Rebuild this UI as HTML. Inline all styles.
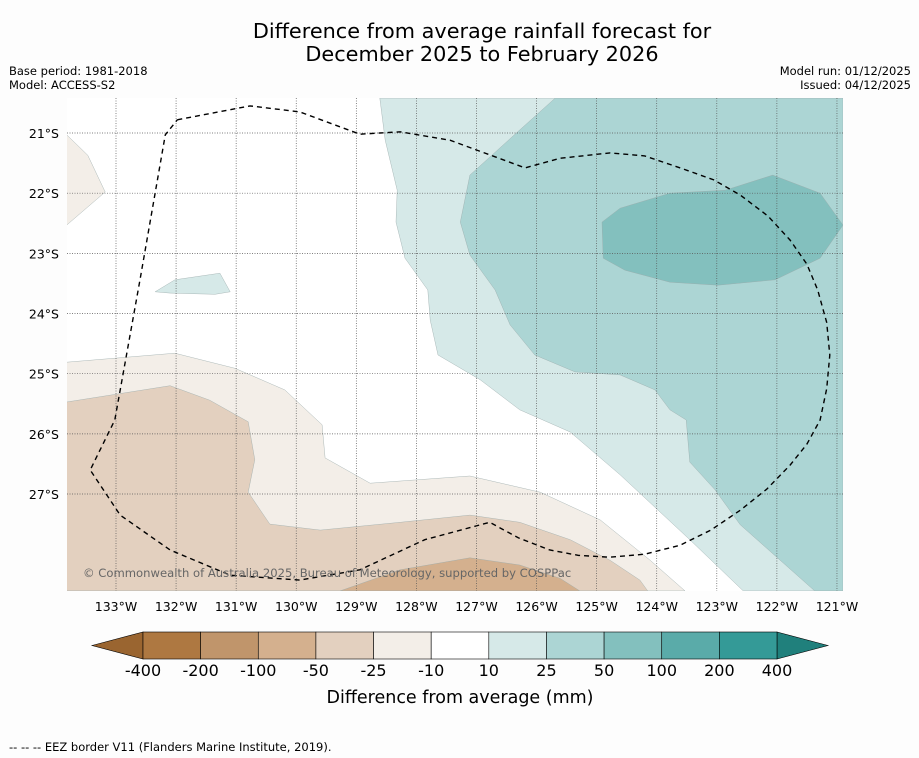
<!DOCTYPE html>
<html><head><meta charset="utf-8">
<style>
body{margin:0;background:#fdfdfd;font-family:"Liberation Sans","DejaVu Sans",sans-serif;}
svg{display:block}
</style></head>
<body>
<svg id="chart" width="919" height="758" xmlns="http://www.w3.org/2000/svg" font-family="DejaVu Sans, Liberation Sans, sans-serif">
<rect width="919" height="758" fill="#fdfdfd"/>
<text x="482" y="38" font-size="20.8" text-anchor="middle" fill="#000">Difference from average rainfall forecast for</text>
<text x="482" y="61" font-size="20.8" text-anchor="middle" fill="#000">December 2025 to February 2026</text>
<text x="9" y="75" font-size="11.5">Base period: 1981-2018</text>
<text x="9" y="89" font-size="11.5">Model: ACCESS-S2</text>
<text x="911" y="75" font-size="11.5" text-anchor="end">Model run: 01/12/2025</text>
<text x="911" y="89" font-size="11.5" text-anchor="end">Issued: 04/12/2025</text>
<defs><clipPath id="mapclip"><rect x="67" y="98" width="776" height="493"/></clipPath></defs>
<g id="map" clip-path="url(#mapclip)"><rect x="67" y="98" width="776" height="493" fill="#fff"/></g>
<g id="grid"></g>
<g id="eez" clip-path="url(#mapclip)"></g>
<text x="83" y="577" font-size="11.6" fill="#666">© Commonwealth of Australia 2025, Bureau of Meteorology, supported by COSPPac</text>
<g id="ticks"></g>
<g id="cbar"></g>
<text x="460" y="703" font-size="17.5" text-anchor="middle">Difference from average (mm)</text>
<text x="9" y="751" font-size="11.5">--  --  -- EEZ border V11 (Flanders Marine Institute, 2019).</text>
</svg>
<script>
const lonTicks=[-133,-132,-131,-130,-129,-128,-127,-126,-125,-124,-123,-122,-121];
const latTicks=[21,22,23,24,25,26,27];
const levelLabels=["-400","-200","-100","-50","-25","-10","10","25","50","100","200","400"];
const levelColors=["#ae7841","#c0956b","#d4b08e","#e3d0bf","#f3eee8","#ffffff","#d6e9e8","#acd5d4","#83c0be","#5aaba9","#349a97"];
const shapeLevels=[4,3,2,4,6,6,7,8];
const shapes=[
[[-133.82,24.81],[-132.02,24.66],[-131.02,24.91],[-130.19,25.27],[-129.57,25.85],[-129.52,26.40],[-128.77,26.82],[-127.11,26.70],[-125.94,26.97],[-124.94,27.43],[-124.11,28.10],[-123.53,28.61],[-133.82,28.61]],
[[-133.82,25.47],[-132.10,25.20],[-131.44,25.44],[-130.80,25.80],[-130.69,26.43],[-130.80,26.97],[-130.44,27.50],[-129.60,27.60],[-128.27,27.47],[-127.11,27.35],[-126.28,27.47],[-125.44,27.76],[-124.78,28.10],[-124.28,28.43],[-124.15,28.61],[-133.82,28.61]],
[[-129.27,28.61],[-128.27,28.26],[-127.11,28.06],[-126.28,28.18],[-125.61,28.40],[-125.28,28.61]],
[[-133.82,21.03],[-133.47,21.37],[-133.18,21.98],[-133.82,22.53]],
[[-132.35,23.64],[-132.02,23.44],[-131.27,23.33],[-131.10,23.64],[-131.35,23.68],[-132.10,23.66]],
[[-128.61,20.42],[-120.90,20.42],[-120.90,28.61],[-122.56,28.61],[-123.45,27.76],[-124.61,26.68],[-125.44,25.97],[-126.28,25.60],[-126.94,25.10],[-127.64,24.69],[-127.77,24.11],[-127.81,23.61],[-128.19,23.08],[-128.34,22.48],[-128.32,21.95],[-128.52,21.12]],
[[-125.69,20.42],[-120.90,20.42],[-120.90,28.61],[-121.37,28.61],[-122.61,27.51],[-123.03,26.93],[-123.45,26.47],[-123.51,25.77],[-123.78,25.60],[-124.03,25.27],[-124.61,25.02],[-125.36,24.97],[-126.03,24.69],[-126.44,24.19],[-126.69,23.61],[-127.11,23.03],[-127.27,22.48],[-127.11,21.70],[-126.28,20.95]],
[[-124.91,22.48],[-124.61,22.25],[-123.78,22.00],[-122.86,21.95],[-122.07,21.70],[-121.28,22.00],[-120.90,22.53],[-121.28,23.08],[-122.03,23.44],[-122.98,23.53],[-123.78,23.48],[-124.53,23.28],[-124.89,23.08]]
];
const eezLine=[[-131.98,20.78],[-130.77,20.55],[-129.94,20.65],[-128.94,21.02],[-128.27,20.98],[-127.44,21.12],[-126.19,21.58],[-125.61,21.42],[-124.78,21.33],[-124.20,21.38],[-123.61,21.58],[-123.05,21.78],[-122.61,22.03],[-122.15,22.38],[-121.78,22.78],[-121.50,23.18],[-121.32,23.61],[-121.17,24.15],[-121.12,24.69],[-121.17,25.25],[-121.28,25.77],[-121.50,26.17],[-121.78,26.52],[-122.17,26.92],[-122.61,27.27],[-123.10,27.60],[-123.61,27.85],[-124.20,28.00],[-124.78,28.05],[-125.30,28.02],[-125.78,27.93],[-126.30,27.73],[-126.78,27.47],[-127.86,27.76],[-128.94,28.26],[-129.94,28.43],[-131.10,28.35],[-132.10,27.93],[-132.93,27.35],[-133.43,26.60],[-133.02,25.77],[-132.60,23.44],[-132.18,21.03],[-131.98,20.78]];
const X=lon=>116+(lon+133)*60.08;
const Y=lat=>133+(lat-21)*60.17;
const NS="http://www.w3.org/2000/svg";
function mk(tag,attrs,parent){const e=document.createElementNS(NS,tag);for(const k in attrs)e.setAttribute(k,attrs[k]);parent.appendChild(e);return e;}
const map=document.getElementById('map');
shapes.forEach((s,i)=>{
 const p=mk('polygon',{points:s.map(q=>X(q[0]).toFixed(1)+','+Y(q[1]).toFixed(1)).join(' '),fill:levelColors[shapeLevels[i]],stroke:'#9aa',"stroke-width":0.4},map);
 
 
});
const grid=document.getElementById('grid');
lonTicks.forEach(l=>{const ln=mk('line',{x1:X(l),x2:X(l),y1:98,y2:591,stroke:'#555',"stroke-width":0.7,"stroke-dasharray":"1,1.5"},grid);
 
 });
latTicks.forEach(l=>{const ln=mk('line',{x1:67,x2:843,y1:Y(l),y2:Y(l),stroke:'#555',"stroke-width":0.7,"stroke-dasharray":"1,1.5"},grid);
 
 });
const eez=document.getElementById('eez');
const ep=mk('polyline',{points:eezLine.map(q=>X(q[0]).toFixed(1)+','+Y(q[1]).toFixed(1)).join(' '),fill:'none',stroke:'#000',"stroke-width":1.4,"stroke-dasharray":"5,4"},eez);


const ticks=document.getElementById('ticks');
lonTicks.forEach(l=>{const t=mk('text',{x:X(l),y:611,"font-size":12.5,"text-anchor":"middle"},ticks);t.textContent=(-l)+'°W';
 
 });
latTicks.forEach(l=>{const t=mk('text',{x:59,y:Y(l)+5,"font-size":12.5,"text-anchor":"end"},ticks);t.textContent=l+'°S';
 
 });
const cb=document.getElementById('cbar');
const x0=143,x1=777,cy0=632,cy1=659,n=levelColors.length,w=(x1-x0)/n;
const lt=mk('polygon',{points:`92,645.5 ${x0},${cy0} ${x0},${cy1}`,fill:'#9a6530',stroke:'#000',"stroke-width":0.6},cb);


const rt=mk('polygon',{points:`828,645.5 ${x1},${cy0} ${x1},${cy1}`,fill:'#20807c',stroke:'#000',"stroke-width":0.6},cb);


levelColors.forEach((c,i)=>{const r=mk('rect',{x:x0+i*w,y:cy0,width:w,height:cy1-cy0,fill:c,stroke:'#000',"stroke-width":0.6},cb);
 
 });
levelLabels.forEach((s,i)=>{const t=mk('text',{x:x0+i*w,y:676,"font-size":16,"text-anchor":"middle"},cb);t.textContent=s;
 
 });
</script>
</body></html>
